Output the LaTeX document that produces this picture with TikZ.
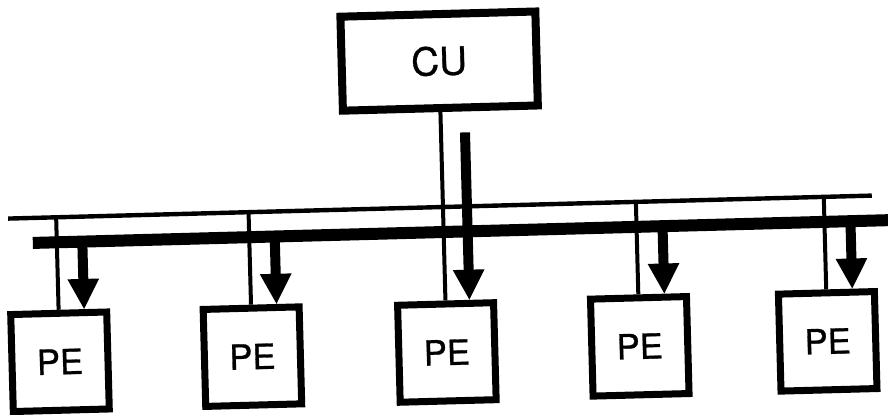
\documentclass[tikz,border=0pt]{standalone}
\usepackage{fontspec}
\setmainfont{TeX Gyre Heros}
\newfontfamily\labelfont{TeX Gyre Heros}[FakeBold=0.8]
\usetikzlibrary{arrows.meta}
\begin{document}
\begin{tikzpicture}[x=0.75pt,y=-0.75pt,
  pebox/.style={draw,line width=5.25pt,minimum width=72pt,minimum height=72.75pt,inner sep=0pt,font=\labelfont\fontsize{26}{26}\selectfont},
  cubox/.style={draw,line width=6pt,minimum width=146.25pt,minimum height=70.5pt,inner sep=0pt,font=\labelfont\fontsize{29}{29}\selectfont},
  thinline/.style={line width=3pt},
  thinbus/.style={line width=3.3pt},
  busline/.style={line width=9pt},
  flow/.style={line width=7.5pt,-{Triangle[width=22pt,length=23pt]}}]
\useasboundingbox (0,0) rectangle (888,414);
\clip (0,0) rectangle (888,414);
\begin{scope}[rotate around={1.525:(444,207)},transform shape]
  % nodes
  \node[cubox] (CU) at (443,61) {CU};
  \node[pebox] (PE1) at (56,351.5) {PE};
  \node[pebox] (PE2) at (248.5,351.5) {PE};
  \node[pebox] (PE3) at (443,352.5) {PE};
  \node[pebox] (PE4) at (636,351.5) {PE};
  \node[pebox] (PE5) at (824,351.5) {PE};
  % buses
  \coordinate (tl) at (8,207);
  \coordinate (tr) at (872,207);
  \coordinate (kl) at (32,232);
  \coordinate (kr) at (900,232);
  \draw[thinbus] (tl) -- (tr);
  \draw[busline] (kl) -- (kr);
  % thin drops
  \coordinate (b1) at (56,207);
  \coordinate (b2) at (248.5,207);
  \coordinate (b4) at (636,207);
  \coordinate (b5) at (824,207);
  \draw[thinline] (b1) -- (PE1);
  \draw[thinline] (b2) -- (PE2);
  \draw[thinline] (CU) -- (PE3);
  \draw[thinline] (b4) -- (PE4);
  \draw[thinline] (b5) -- (PE5);
  % arrows
  \coordinate (a1) at (81.5,236);   \coordinate (t1) at (81.5,300);
  \coordinate (a2) at (274,236);    \coordinate (t2) at (274,300);
  \coordinate (a3) at (467,133);    \coordinate (t3) at (467,301);
  \coordinate (a4) at (662,236);    \coordinate (t4) at (662,300);
  \coordinate (a5) at (850,236);    \coordinate (t5) at (850,300);
  \draw[flow] (a1) -- (t1);
  \draw[flow] (a2) -- (t2);
  \draw[flow] (a3) -- (t3);
  \draw[flow] (a4) -- (t4);
  \draw[flow] (a5) -- (t5);
\end{scope}
\end{tikzpicture}
\end{document}
